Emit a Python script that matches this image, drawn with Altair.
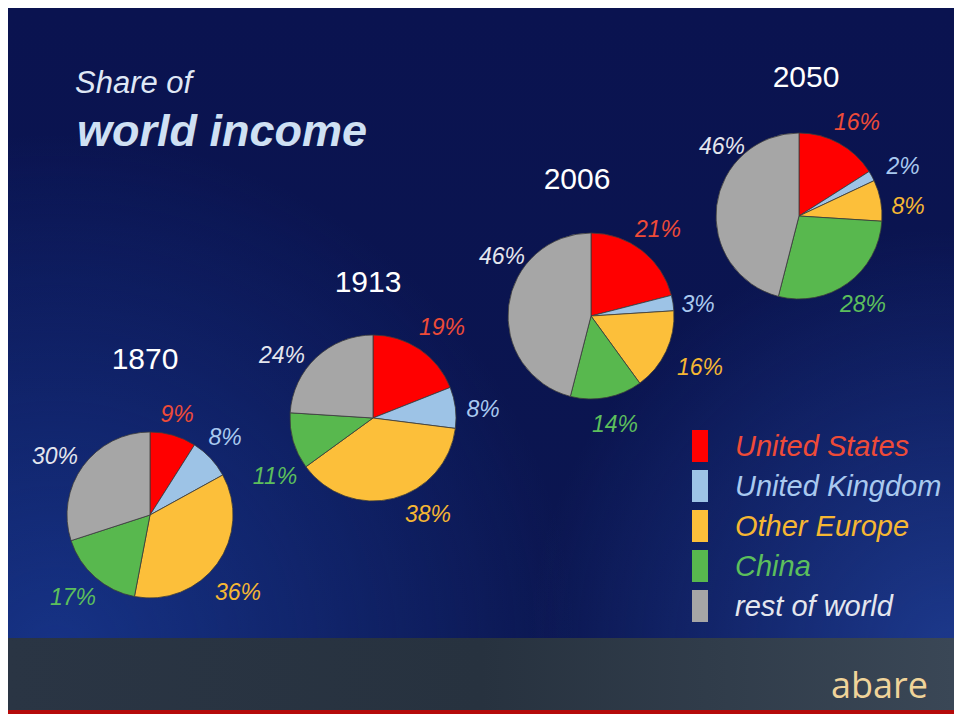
import altair as alt
import pandas as pd

# ---------------- data ----------------
years = ["1870", "1913", "2006", "2050"]
regions = ["United States", "United Kingdom", "Other Europe", "China", "rest of world"]
share_1870 = [9, 8, 36, 17, 30]
share_1913 = [19, 8, 38, 11, 24]
share_2006 = [21, 3, 16, 14, 46]
share_2050 = [16, 2, 8, 28, 46]
shares = [share_1870, share_1913, share_2006, share_2050]

# ---------------- styles ----------------
slice_colors = ["#ff0000", "#9dc3e6", "#fcbf3a", "#58b84e", "#a6a6a6"]
text_colors = ["#ee4b38", "#a9c9ef", "#f6b733", "#5cbf5c", "#e4e6ee"]

# ---------------- layout (pixels in the 962x722 frame) ----------------
pie_cx = [150, 373, 591, 799]
pie_cy = [515, 418, 316, 216]
pie_radius = 83
year_x = [145, 368, 577, 806]
year_y = [360, 283, 180, 78]
label_x = [[177, 225, 238, 73, 55],
           [442, 483, 428, 275, 282],
           [658, 698, 700, 615, 502],
           [857, 903, 908, 863, 722]]
label_y = [[415, 438, 593, 598, 457],
           [328, 410, 515, 477, 356],
           [230, 305, 368, 425, 257],
           [123, 167, 207, 305, 147]]
legend_box_x = [692, 708]
legend_y = [446, 486, 526, 566, 606]
legend_text_x = 735

FONT = "Liberation Sans"
W, H = 946, 706
X0, Y0 = 8, 8

xs = alt.Scale(domain=[X0, X0 + W], nice=False, zero=False)
ys = alt.Scale(domain=[Y0 + H, Y0], nice=False, zero=False)


def X(f):
    return alt.X(f, type="quantitative", scale=xs, axis=None)


def Y(f):
    return alt.Y(f, type="quantitative", scale=ys, axis=None)


# slices
rows = []
for yi, yr in enumerate(years):
    start = 0
    for ri, reg in enumerate(regions):
        v = shares[yi][ri]
        rows.append(dict(year=yr, region=reg, value=v, start=start, end=start + v,
                         cx=pie_cx[yi], cy=pie_cy[yi],
                         lx=label_x[yi][ri], ly=label_y[yi][ri],
                         label=f"{v}%", fill=slice_colors[ri], tcol=text_colors[ri]))
        start += v
slices = pd.DataFrame(rows)

years_df = pd.DataFrame(dict(year=years, x=year_x, y=year_y))
legend_df = pd.DataFrame(dict(region=regions, y=legend_y,
                              y1=[v - 16 for v in legend_y], y2=[v + 16 for v in legend_y],
                              yt=[v + 10 for v in legend_y],
                              x1=legend_box_x[0], x2=legend_box_x[1], xt=legend_text_x,
                              fill=slice_colors, tcol=text_colors))

# ---------------- background ----------------
bg_df = pd.DataFrame(dict(x1=[X0], x2=[X0 + W], y1=[Y0], y2=[638]))
band_df = pd.DataFrame(dict(x1=[X0], x2=[X0 + W], y1=[638], y2=[710]))
red_df = pd.DataFrame(dict(x1=[X0], x2=[X0 + W], y1=[710], y2=[Y0 + H]))


def rect(df, fill, **kw):
    return alt.Chart(df).mark_rect(fill=fill, **kw).encode(
        x=X("x1"), x2="x2", y=Y("y1"), y2="y2")


bg = rect(bg_df, {
    "gradient": "linear", "x1": 0, "y1": 0, "x2": 0, "y2": 1,
    "stops": [{"offset": 0, "color": "#0a1350"},
              {"offset": 1, "color": "#0b1650"}]})
glow1 = rect(bg_df, {
    "gradient": "radial", "x1": 0.05, "y1": 0.85, "r1": 0, "x2": 0.05, "y2": 0.85, "r2": 0.55,
    "stops": [{"offset": 0, "color": "rgba(30,70,170,0.6)"},
              {"offset": 1, "color": "rgba(30,70,170,0)"}]})
glow2 = rect(bg_df, {
    "gradient": "radial", "x1": 1.0, "y1": 0.85, "r1": 0, "x2": 1.0, "y2": 0.85, "r2": 0.45,
    "stops": [{"offset": 0, "color": "rgba(40,80,180,0.6)"},
              {"offset": 1, "color": "rgba(40,80,180,0)"}]})
band = rect(band_df, {
    "gradient": "linear", "x1": 0, "y1": 0, "x2": 1, "y2": 0,
    "stops": [{"offset": 0, "color": "#2a3544"},
              {"offset": 0.5, "color": "#27323f"},
              {"offset": 1, "color": "#3a4756"}]})
red_line = rect(red_df, "#b50a0a")

# ---------------- pies ----------------
pies = alt.Chart(slices).mark_arc(outerRadius=pie_radius, stroke="#3b3b3b", strokeWidth=0.8).encode(
    x=X("cx"), y=Y("cy"),
    theta=alt.Theta("start:Q", scale=alt.Scale(domain=[0, 100])),
    theta2="end:Q",
    fill=alt.Fill("fill:N", scale=None),
)

pct = alt.Chart(slices).mark_text(font=FONT, fontSize=23, fontStyle="italic",
                                  align="center", baseline="middle").encode(
    x=X("lx"), y=Y("ly"), text="label:N", color=alt.Color("tcol:N", scale=None))

yrs = alt.Chart(years_df).mark_text(font=FONT, fontSize=30, color="#ffffff",
                                    align="center", baseline="middle").encode(
    x=X("x"), y=Y("y"), text="year:N")

# ---------------- legend ----------------
leg_box = alt.Chart(legend_df).mark_rect().encode(
    x=X("x1"), x2="x2", y=Y("y1"), y2="y2", fill=alt.Fill("fill:N", scale=None))
leg_txt = alt.Chart(legend_df).mark_text(font=FONT, fontSize=29, fontStyle="italic",
                                         align="left", baseline="alphabetic").encode(
    x=X("xt"), y=Y("yt"), text="region:N", color=alt.Color("tcol:N", scale=None))

# ---------------- titles ----------------
title_df = pd.DataFrame(dict(t=["Share of"], x=[75], y=[93]))
title2_df = pd.DataFrame(dict(t=["world income"], x=[77], y=[146]))
t1 = alt.Chart(title_df).mark_text(font=FONT, fontSize=31, fontStyle="italic", color="#dfe7f5",
                                   align="left", baseline="alphabetic").encode(
    x=X("x"), y=Y("y"), text="t:N")
t2 = alt.Chart(title2_df).mark_text(font=FONT, fontSize=45, fontStyle="italic", fontWeight="bold",
                                    color="#cfe0f3", align="left", baseline="alphabetic").encode(
    x=X("x"), y=Y("y"), text="t:N")

brand_df = pd.DataFrame(dict(t=["abare"], x=[928], y=[698]))
brand = alt.Chart(brand_df).mark_text(font="Open Sans", fontSize=36, color="#f0d49a",
                                      align="right", baseline="alphabetic").encode(
    x=X("x"), y=Y("y"), text="t:N")

chart = alt.layer(bg, glow1, glow2, band, red_line, pies, pct, yrs, leg_box, leg_txt,
                  t1, t2, brand).properties(
    width=W, height=H, padding=0, autosize=alt.AutoSizeParams(type="none"),
    background="#000000",
).configure_view(stroke=None)

chart.save("out.html", embed_options={"renderer": "svg", "actions": False})
